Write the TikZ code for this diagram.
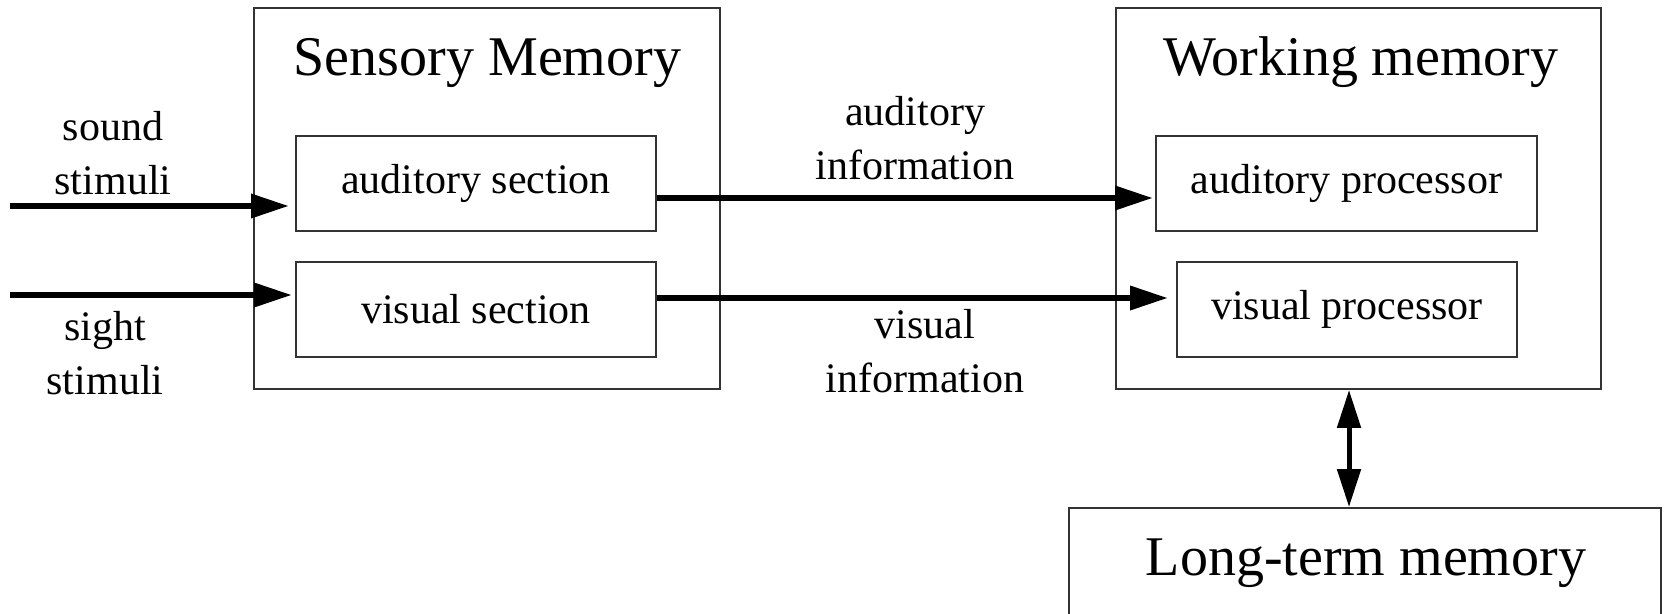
\documentclass[tikz,border=0pt]{standalone}
\usepackage{fontspec}
\setmainfont{Liberation Serif}
\usetikzlibrary{arrows.meta}
\begin{document}
\begin{tikzpicture}[x=1pt,y=-1pt,
  box/.style={draw=black!80, line width=1.8pt, inner sep=0pt},
  small/.style={font=\fontsize{42}{54}\selectfont},
  big/.style={font=\fontsize{56}{64}\selectfont},
  arr/.style={line width=6.5pt, -{Triangle[length=38pt,width=23pt]}},
  dbl/.style={line width=5pt, {Triangle[length=38pt,width=23pt]}-{Triangle[length=38pt,width=23pt]}},
  lbl/.style={small, align=center, anchor=north, inner sep=0pt}]
\clip (0,0) rectangle (1665,613);
\fill[white] (0,0) rectangle (1665,613);
% Sensory memory
\node[box, minimum width=466pt, minimum height=381pt] (sm) at (487,198.5) {};
\node[big, anchor=base] (smt) at (487.5,75) {Sensory Memory};
\node[box, small, minimum width=360pt, minimum height=95pt] (aud) at (476,183.5) {auditory section};
\node[box, small, minimum width=360pt, minimum height=95pt] (vis) at (476,309.5) {visual section};
% Working memory
\node[box, minimum width=485pt, minimum height=381pt] (wm) at (1358.5,198.5) {};
\node[big, anchor=base] (wmt) at (1361,75) {Working memory};
\node[box, small, minimum width=381pt, minimum height=95pt] (ap) at (1346.5,183.5) {auditory processor};
\node[box, small, minimum width=340pt, minimum height=95pt] (vp) at (1347,309.5) {visual processor};
% Long-term memory
\node[box, minimum width=592pt, minimum height=117pt] (ltm) at (1365,566.5) {};
\node[big, anchor=base] (ltmt) at (1366,575) {Long-term memory};
% labels
\node[lbl] (snd) at (113,111) {sound\\stimuli};
\node[lbl] (sgt) at (105,311) {sight\\stimuli};
\node[lbl] (ai) at (915,96) {auditory\\information};
\node[lbl] (vi) at (925,309) {visual\\information};
% connectors
\coordinate (sndin) at (10,206);
\coordinate (sgtin) at (10,295);
\draw[arr, shorten >=6pt] (sndin) -- (sndin -| aud.west);
\draw[arr, shorten >=3pt] (sgtin) -- (sgtin -| vis.west);
\path ([yshift=-14.5pt]aud.east) coordinate (ai1);
\path ([yshift=11.5pt]vis.east) coordinate (vi1);
\draw[arr, shorten >=2pt] (ai1) -- (ai1 -| ap.west);
\draw[arr, shorten >=8pt] (vi1) -- (vi1 -| vp.west);
\path ([xshift=-9.5pt]wm.south) coordinate (d1);
\draw[dbl] (d1) -- (d1 |- ltm.north);
\end{tikzpicture}
\end{document}
